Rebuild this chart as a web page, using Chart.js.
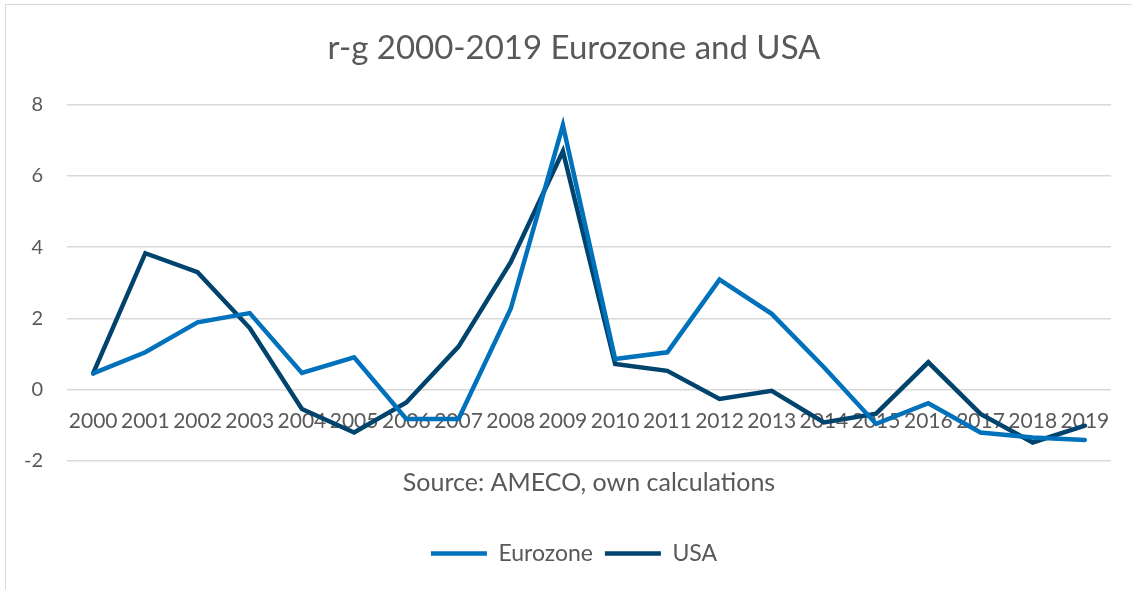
<!DOCTYPE html>
<html>
<head>
<meta charset="utf-8">
<script src="https://cdn.jsdelivr.net/npm/chart.js@4"></script>
<style>
  body { margin: 0; background: #fff; }
  #wrap { position: absolute; left: 5px; top: 4px; width: 1140px; height: 600px; border: 1px solid #d9d9d9; box-sizing: border-box; }
  #box { position: absolute; left: -6px; top: 0; width: 1163px; height: 585px; }
</style>
</head>
<body>
<div id="wrap"><div id="box"><canvas id="chart"></canvas></div></div>
<script>
// Data
const years = ["2000","2001","2002","2003","2004","2005","2006","2007","2008","2009",
               "2010","2011","2012","2013","2014","2015","2016","2017","2018","2019"];
const eurozone = [0.46, 1.05, 1.89, 2.15, 0.47, 0.91, -0.82, -0.82, 2.27, 7.42,
                  0.86, 1.05, 3.09, 2.13, 0.63, -0.96, -0.38, -1.2, -1.34, -1.41];
const usa = [0.46, 3.83, 3.30, 1.73, -0.54, -1.2, -0.36, 1.21, 3.58, 6.69,
             0.72, 0.53, -0.26, -0.03, -0.92, -0.67, 0.77, -0.68, -1.48, -1.01];
const yTicks = [-2, 0, 2, 4, 6, 8];

const textColor = "#595959";
const font = "Lato, 'Open Sans', sans-serif";

new Chart(document.getElementById("chart"), {
    type: "line",
    data: {
        labels: years,
        datasets: [
            { label: "Eurozone", data: eurozone, xAxisID: "x", yAxisID: "y",
              borderColor: "#0072bc", backgroundColor: "#0072bc", pointStyle: "line",
              borderWidth: 4.5, pointRadius: 0, tension: 0, borderJoinStyle: "miter", borderCapStyle: "round" },
            { label: "USA", data: usa, xAxisID: "x", yAxisID: "y",
              borderColor: "#00446e", backgroundColor: "#00446e", pointStyle: "line",
              borderWidth: 4.5, pointRadius: 0, tension: 0, borderJoinStyle: "miter", borderCapStyle: "round" }
        ]
    },
    options: {
        responsive: true,
        maintainAspectRatio: false,
        animation: false,
        layout: { padding: { left: 0, right: 15, top: 8, bottom: 15 } },
        plugins: {
            title: {
                display: true,
                text: "r-g 2000-2019 Eurozone and USA",
                color: textColor,
                font: { family: font, size: 33, weight: "normal" },
                padding: { top: 16, bottom: 36 }
            },
            legend: {
                position: "bottom",
                labels: {
                    color: textColor,
                    font: { family: font, size: 23 },
                    usePointStyle: true,
                    pointStyleWidth: 56,
                    boxHeight: 5,
                    padding: 12
                }
            },
            tooltip: { enabled: false }
        },
        scales: {
            x: {
                position: { y: 0 },
                offset: true,
                grid: { display: false },
                border: { display: false },
                ticks: {
                    color: textColor,
                    font: { family: font, size: 21 },
                    maxRotation: 0,
                    autoSkip: false,
                    padding: 11
                },
                title: {
                    display: true,
                    text: "Source: AMECO, own calculations",
                    color: textColor,
                    font: { family: font, size: 25 },
                    padding: { top: 23, bottom: 0 }
                }
            },
            y: {
                min: yTicks[0],
                max: yTicks[yTicks.length - 1],
                afterBuildTicks: (axis) => { axis.ticks = yTicks.map(v => ({ value: v })); },
                grid: { color: "#d9d9d9", lineWidth: 1.5, drawTicks: false },
                border: { display: false },
                ticks: {
                    color: textColor,
                    font: { family: font, size: 20 },
                    padding: 24
                }
            },
            // empty space under the plot (room for the source line)
            xSpacer: {
                position: "bottom",
                grid: { display: false },
                border: { display: false },
                ticks: { display: false },
                afterFit: (s) => { s.height = 69; }
            },
            // empty space right of the plot so title and legend sit centred on the whole frame
            yRight: {
                position: "right",
                grid: { display: false },
                border: { display: false },
                ticks: { display: false },
                afterFit: (s) => { s.width = 37; }
            }
        }
    }
});
</script>
</body>
</html>
